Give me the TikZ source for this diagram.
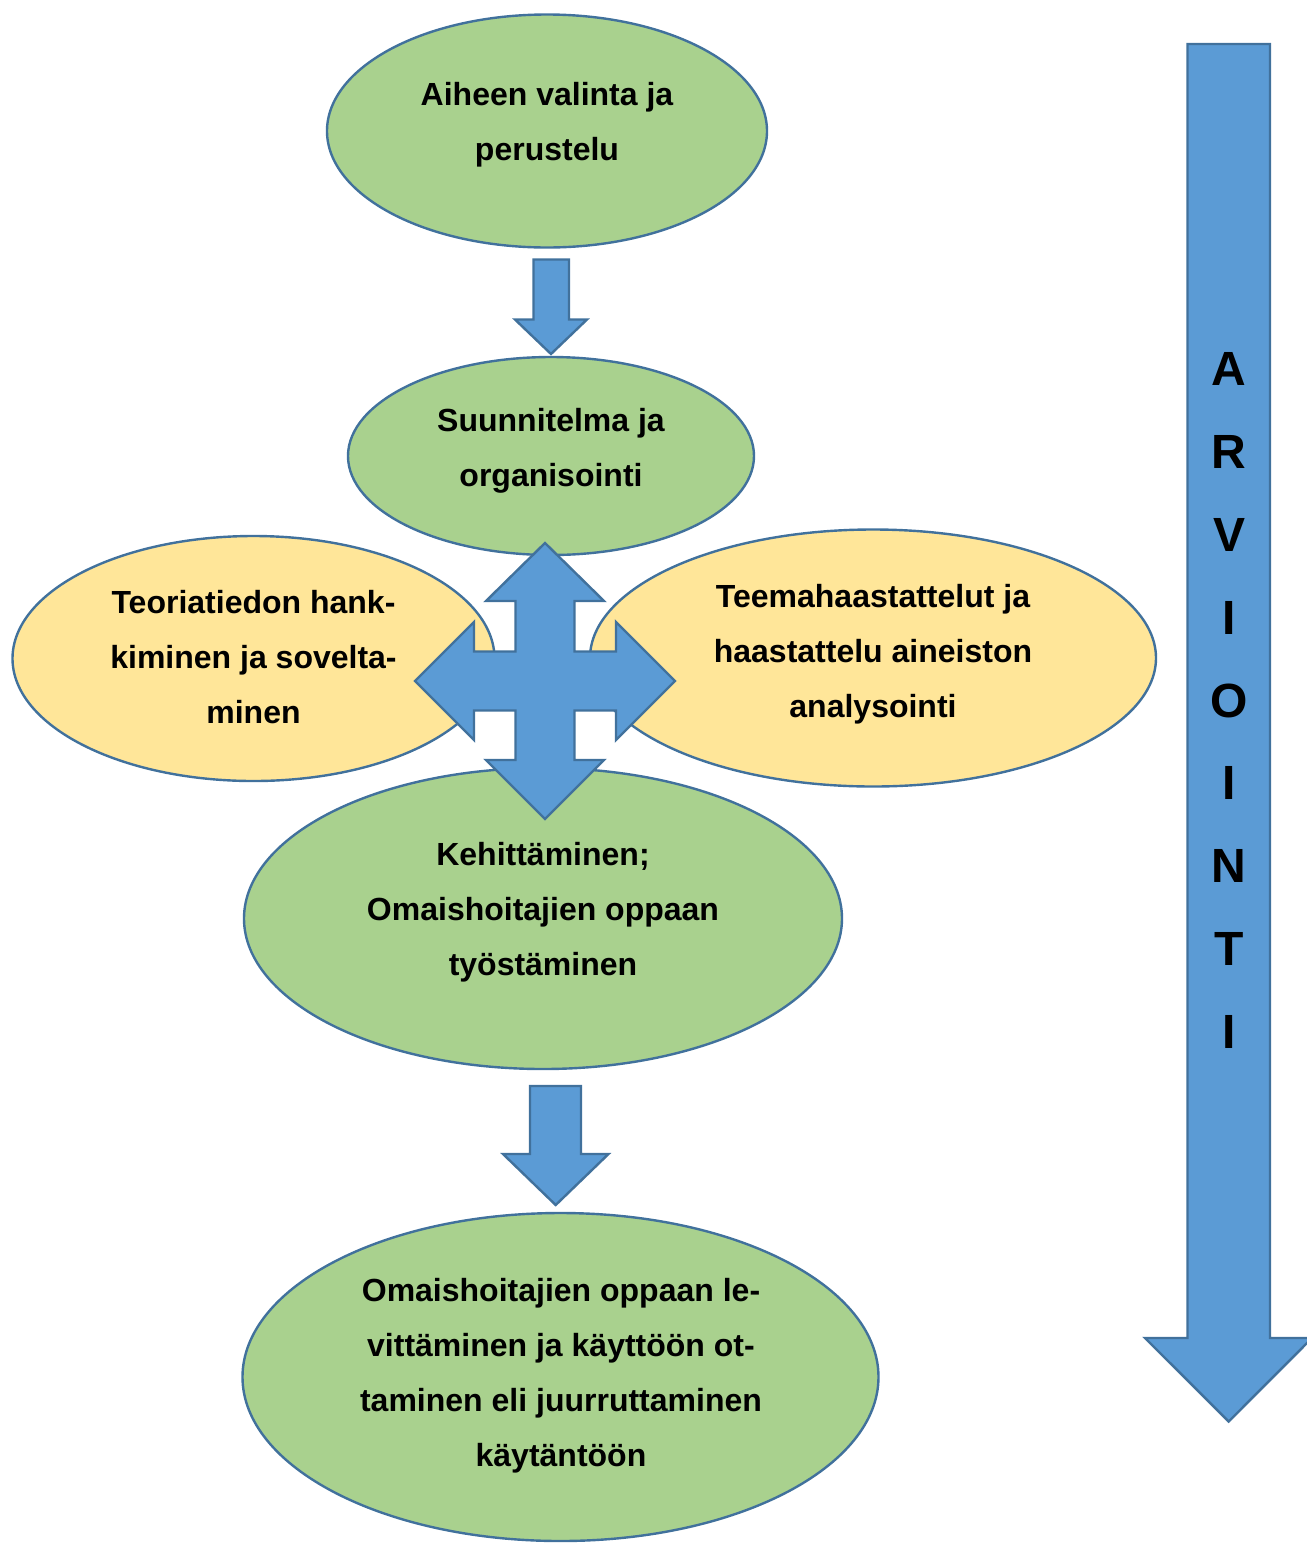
\documentclass[tikz,border=0pt]{standalone}
\usepackage{fontspec}
\setmainfont{Liberation Sans}
\usetikzlibrary{shapes.geometric}
\definecolor{bgreen}{RGB}{169,209,142}
\definecolor{byellow}{RGB}{255,230,153}
\definecolor{ablue}{RGB}{91,155,213}
\definecolor{edge}{RGB}{65,113,156}
\begin{document}
\begin{tikzpicture}[x=1pt,y=-1pt,
  bubble/.style={ellipse, draw=edge, line width=2.4pt, inner sep=0pt},
  txt/.style={align=center, inner sep=0pt, font=\fontsize{32}{55}\selectfont\bfseries},
  bigtxt/.style={align=center, inner sep=0pt, font=\fontsize{48}{82.9}\selectfont\bfseries},
  blockarrow/.style={fill=ablue, draw=edge, line width=2.4pt, line join=miter}]
\useasboundingbox (0,0) rectangle (1307,1543);
\clip (0,0) rectangle (1307,1543);
% ellipses
\node[bubble, fill=bgreen, minimum width=440pt, minimum height=233pt] (e1) at (547,131) {};
\node[bubble, fill=bgreen, minimum width=406pt, minimum height=198pt] (e2) at (551,456) {};
\node[bubble, fill=byellow, minimum width=482pt, minimum height=245pt] (e3) at (253.5,658.5) {};
\node[bubble, fill=byellow, minimum width=566pt, minimum height=257pt] (e4) at (873,658) {};
\node[bubble, fill=bgreen, minimum width=598pt, minimum height=301pt] (e5) at (543,918.5) {};
\node[bubble, fill=bgreen, minimum width=636pt, minimum height=328pt] (e6) at (560.5,1377) {};
% down arrow 1
\draw[blockarrow] (533.5,259.5) -- (569,259.5) -- (569,319.5) -- (587,319.5) -- (551,354)
  -- (515,319.5) -- (533.5,319.5) -- cycle;
% down arrow 2
\draw[blockarrow] (530,1086) -- (581,1086) -- (581,1154) -- (608.5,1154) -- (555.7,1205)
  -- (503,1154) -- (530,1154) -- cycle;
% evaluation arrow
\draw[blockarrow] (1187.5,44) -- (1270,44) -- (1270,1338) -- (1312,1338) -- (1228.7,1421.5)
  -- (1145,1338) -- (1187.5,1338) -- cycle;
% four-way arrow
\draw[blockarrow] (545,543) -- (604,601) -- (574.5,601) -- (574.5,651.5) -- (616,651.5)
  -- (616,622) -- (675,681) -- (616,740) -- (616,710.5) -- (574.5,710.5) -- (574.5,760)
  -- (604,760) -- (545,819) -- (486,760) -- (515.5,760) -- (515.5,710.5) -- (474,710.5)
  -- (474,740) -- (415,681) -- (474,622) -- (474,651.5) -- (515.5,651.5) -- (515.5,601)
  -- (486,601) -- cycle;
% texts
\node[txt] (t1) at (547,125) {Aiheen valinta ja\\perustelu};
\node[txt] (t2) at (551,451) {Suunnitelma ja\\organisointi};
\node[txt] (t3) at (253.5,657) {Teoriatiedon hank-\\kiminen ja sovelta-\\minen};
\node[txt] (t4) at (873,654) {Teemahaastattelut ja\\haastattelu aineiston\\analysointi};
\node[txt] (t5) at (543,912.5) {Kehittäminen;\\Omaishoitajien oppaan\\työstäminen};
\node[txt] (t6) at (561,1376) {Omaishoitajien oppaan le-\\vittäminen ja käyttöön ot-\\taminen eli juurruttaminen\\käytäntöön};
\node[bigtxt] (t7) at (1229,700.5) {A\\R\\V\\I\\O\\I\\N\\T\\I};
\end{tikzpicture}
\end{document}
